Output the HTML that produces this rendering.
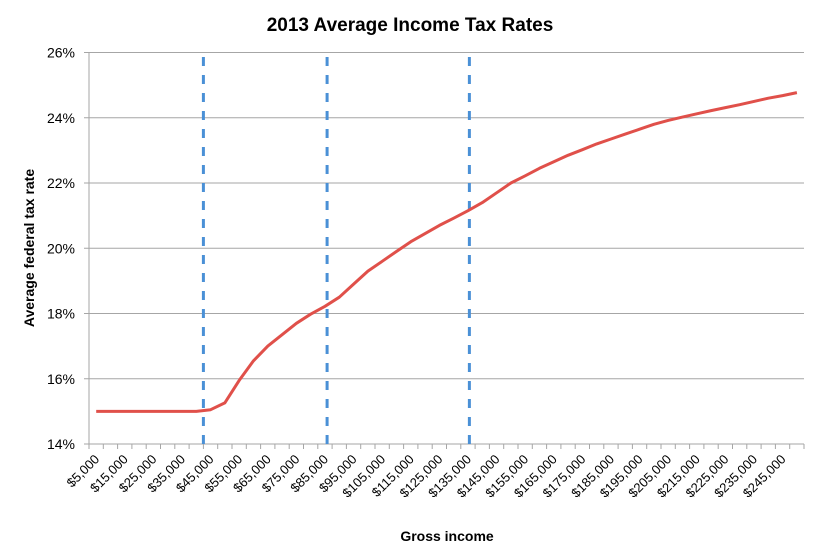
<!DOCTYPE html>
<html><head><meta charset="utf-8"><style>
html,body{margin:0;padding:0;background:#fff;}
svg text{font-family:"Liberation Sans",sans-serif;}
</style></head><body>
<svg id="chart" width="820" height="551" xmlns="http://www.w3.org/2000/svg">
<text x="410" y="31" text-anchor="middle" font-size="19" font-weight="bold" fill="#000">2013 Average Income Tax Rates</text>
<text transform="translate(34,248) rotate(-90)" text-anchor="middle" font-size="14" font-weight="bold" fill="#000">Average federal tax rate</text>
<text x="447" y="541" text-anchor="middle" font-size="14" font-weight="bold" fill="#000">Gross income</text>
<g id="grid"></g>
<g id="xaxis"></g>
<g id="yaxis"></g>
<g id="marks"></g>
</svg>
<script>
const incomes = [];
for (let v = 5000; v <= 250000; v += 5000) incomes.push(v);
const rates = [15.0,15.0,15.0,15.0,15.0,15.0,15.0,15.0,15.05,15.26,15.95,16.55,17.0,17.35,17.7,17.98,18.22,18.5,18.9,19.3,19.6,19.9,20.2,20.45,20.7,20.92,21.15,21.4,21.7,22.0,22.22,22.45,22.65,22.85,23.02,23.2,23.35,23.5,23.65,23.8,23.92,24.02,24.12,24.22,24.31,24.4,24.5,24.6,24.68,24.77];
const bracketLines = [8.0, 16.65, 26.6];
const yTicks = [14,16,18,20,22,24,26];

const NS = "http://www.w3.org/2000/svg";
const X0 = 89, X1 = 804, Y0 = 444, Y1 = 52.5;
const band = (X1 - X0) / incomes.length;
const xCat = i => X0 + band * (i + 0.5);
const xBoundary = f => X0 + band * f;
const yScale = v => Y0 - (v - 14) / (26 - 14) * (Y0 - Y1);
function mk(tag, attrs, parent) {
  const e = document.createElementNS(NS, tag);
  for (const k in attrs) e.setAttribute(k, attrs[k]);
  document.getElementById(parent).appendChild(e);
  return e;
}
yTicks.forEach(t => {
  const y = yScale(t);
  const g = mk("line", {x1: X0 - 5, x2: X1, y1: y, y2: y, stroke: "#a6a6a6", "stroke-width": 1}, "grid");
  
  
  const l = mk("text", {x: 75, y: y + 5, "text-anchor": "end", "font-size": 14, fill: "#000"}, "yaxis");
  l.textContent = t + "%";
  
  
});
const ya = mk("line", {x1: X0, x2: X0, y1: Y1, y2: Y0, stroke: "#a6a6a6"}, "yaxis");


for (let i = 0; i <= incomes.length; i++) {
  const x = xBoundary(i);
  const tk = mk("line", {x1: x, x2: x, y1: Y0, y2: Y0 + 5, stroke: "#a6a6a6"}, "xaxis");
  
  
}
incomes.forEach((v, i) => {
  if (i % 2) return;
  const x = xCat(i) + 4, y = Y0 + 16;
  const t = mk("text", {x: x, y: y, "text-anchor": "end", "font-size": 13, fill: "#000", transform: `rotate(-45 ${x} ${y})`}, "xaxis");
  t.textContent = "$" + v.toLocaleString("en-US");
  
  
});
bracketLines.forEach(f => {
  const x = xBoundary(f);
  const d = mk("line", {x1: x, x2: x, y1: 57, y2: Y0, stroke: "#4a90d6", "stroke-width": 3, "stroke-dasharray": "9 9"}, "marks");
  
  
});
const pts = rates.map((r, i) => xCat(i).toFixed(1) + "," + yScale(r).toFixed(1)).join(" ");
const pl = mk("polyline", {points: pts, fill: "none", stroke: "#e0504a", "stroke-width": 3, "stroke-linejoin": "round"}, "marks");


</script>
</body></html>
